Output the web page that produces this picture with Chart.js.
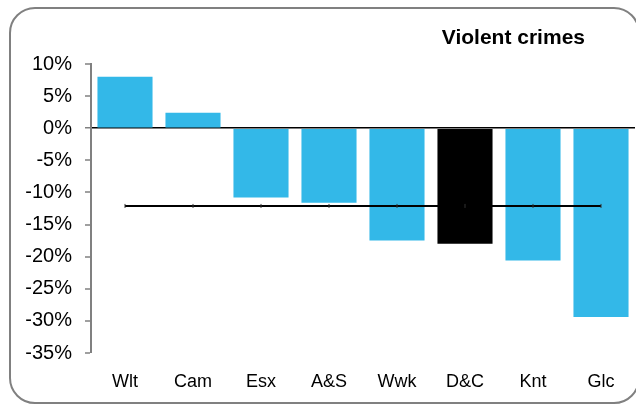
<!DOCTYPE html>
<html>
<head>
<meta charset="utf-8">
<script src="https://cdn.jsdelivr.net/npm/chart.js@4/dist/chart.umd.min.js"></script>
<style>
  html, body { margin: 0; padding: 0; background: #fff; }
  #wrap { position: relative; width: 636px; height: 404px; overflow: hidden; }
  #frame {
    position: absolute; left: 9px; top: 7px; width: 631px; height: 397px;
    border: 2px solid #808080; border-radius: 26px; box-sizing: border-box;
  }
  #title {
    position: absolute; right: 51px; top: 25px;
    font: bold 21px "Liberation Sans", Arial, sans-serif; color: #000;
  }
  canvas { position: absolute; left: 0; top: 0; }
</style>
</head>
<body>
<div id="wrap">
  <div id="frame"></div>
  <canvas id="chart" width="636" height="404"></canvas>
  <div id="title">Violent crimes</div>
</div>
<script>
/* Violent crimes – change by force area, with average line */
const categories = ['Wlt', 'Cam', 'Esx', 'A&S', 'Wwk', 'D&C', 'Knt', 'Glc'];
const changes    = [8.0, 2.4, -10.8, -11.6, -17.5, -18.0, -20.6, -29.4];
const average    = [-12.1, -12.1, -12.1, -12.1, -12.1, -12.1, -12.1, -12.1];
const highlight  = 'D&C';

const BLUE = '#33B8E8';
const FONT = '"Liberation Sans", Arial, sans-serif';

const barColors = categories.map(c => c === highlight ? '#000000' : BLUE);

new Chart(document.getElementById('chart').getContext('2d'), {
  type: 'bar',
  data: {
    labels: categories,
    datasets: [
      {
        type: 'line',
        data: average,
        borderColor: '#000',
        borderWidth: 2,
        pointStyle: 'line',
        rotation: 90,
        pointRadius: 2,
        pointBorderWidth: 1,
        pointBorderColor: '#333',
        order: 0
      },
      {
        data: changes,
        backgroundColor: barColors,
        borderWidth: 0,
        categoryPercentage: 1,
        barPercentage: 0.81,
        order: 1
      }
    ]
  },
  options: {
    responsive: false,
    animation: false,
    layout: { autoPadding: false, padding: { left: 9, right: 1, top: 64, bottom: 0 } },
    plugins: { legend: { display: false }, tooltip: { enabled: false } },
    scales: {
      x: {
        grid: { display: false },
        border: { display: false },
        ticks: { color: '#000', padding: 10, font: { family: FONT, size: 18 } },
        afterFit: s => { s.height = 51; }
      },
      y: {
        min: -35, max: 10,
        ticks: {
          stepSize: 5, color: '#000', padding: 13,
          font: { family: FONT, size: 20 },
          callback: v => v + '%'
        },
        grid: {
          color: ctx => ctx.tick && ctx.tick.value === 0 ? '#000' : 'rgba(0,0,0,0)',
          lineWidth: ctx => ctx.tick && ctx.tick.value === 0 ? 1.5 : 0,
          tickColor: '#808080', tickLength: 6, tickWidth: 1.5
        },
        border: { color: '#808080', width: 2 },
        afterFit: s => { s.width = 82; }
      }
    }
  }
});
</script>
</body>
</html>
